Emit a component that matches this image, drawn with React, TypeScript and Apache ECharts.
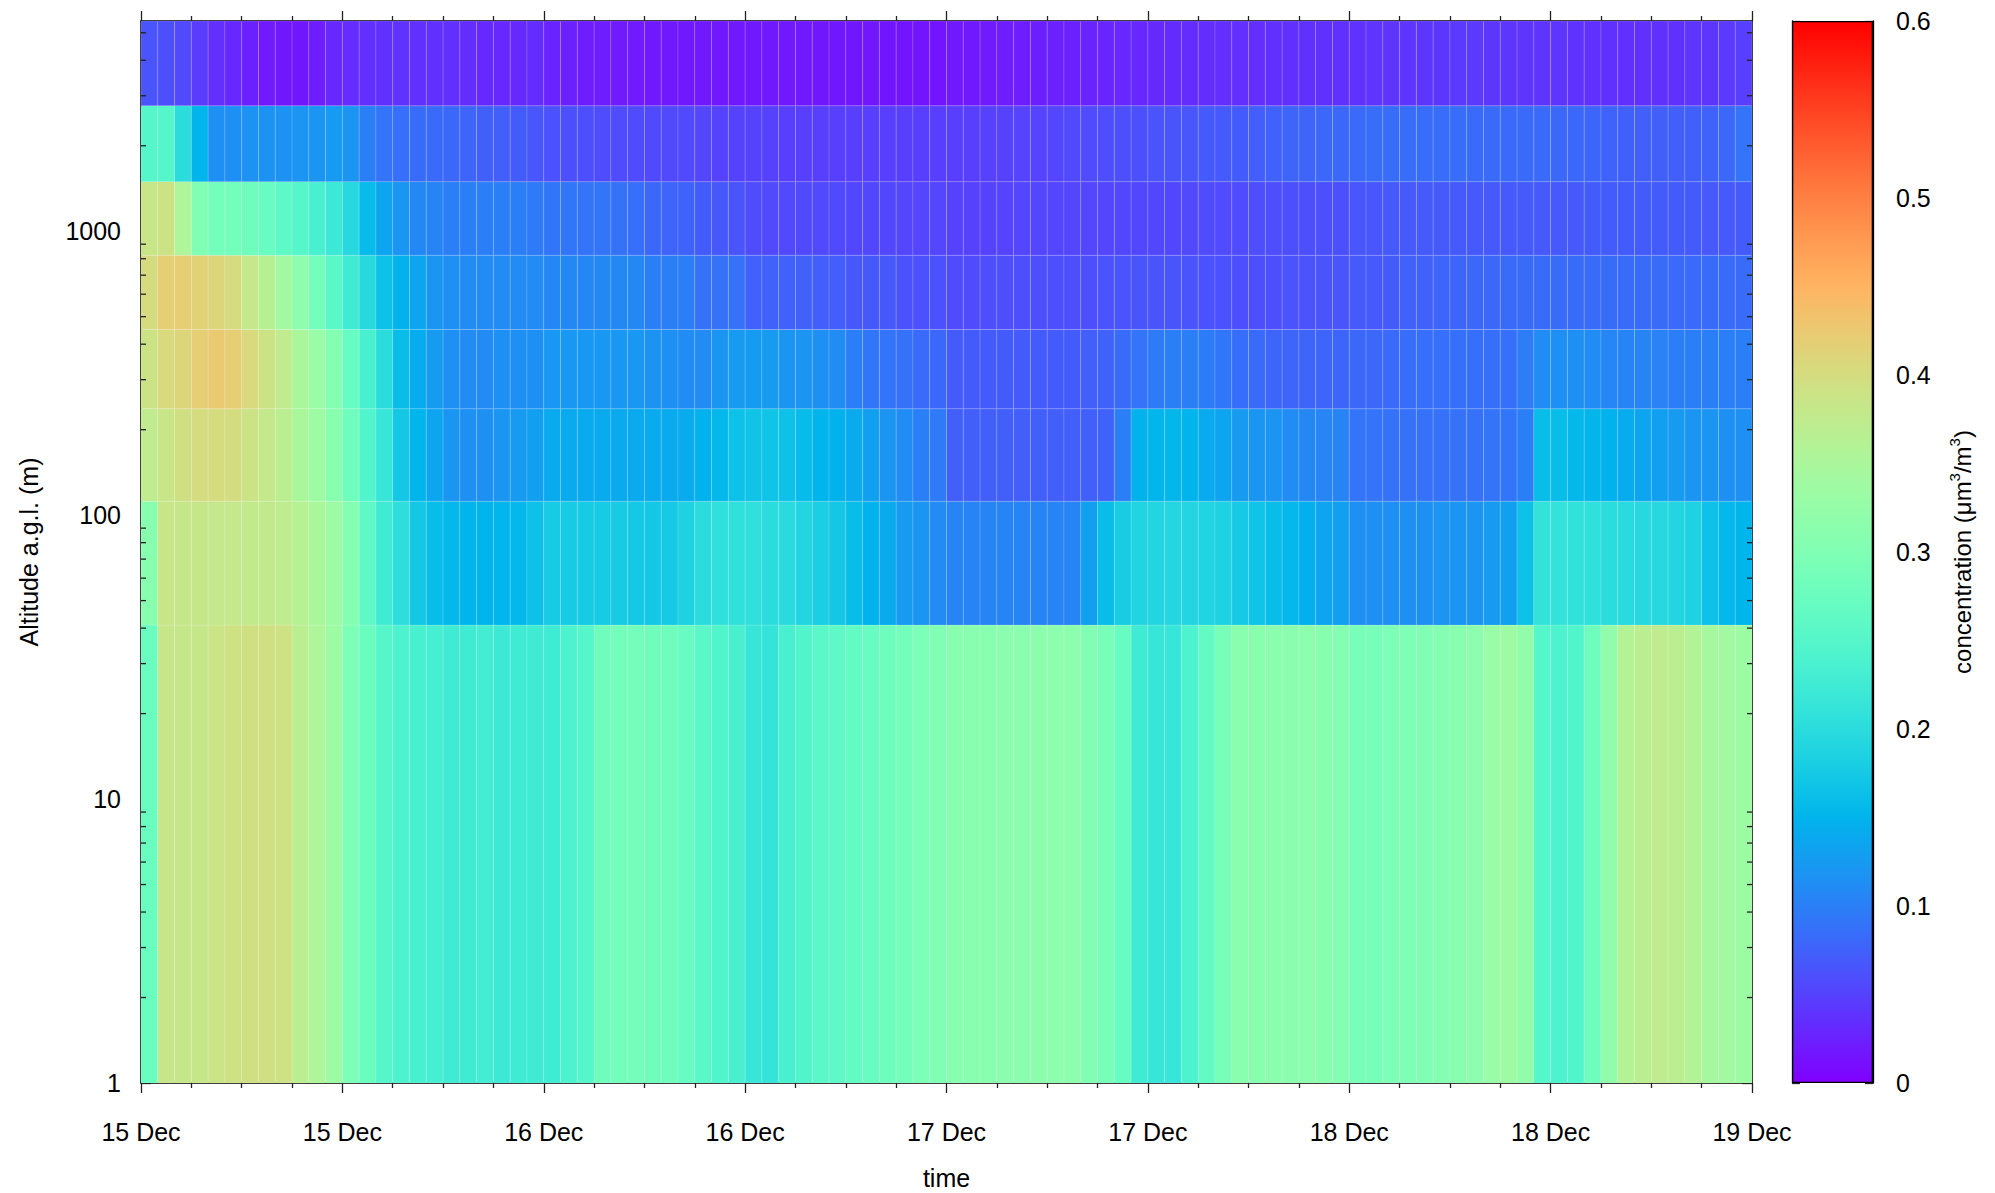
import React, { useEffect, useRef } from "react";
import * as echarts from "echarts";

// Altitude band edges (m a.g.l.)
const LEVEL_EDGES = [1, 41, 112, 237, 451, 823, 1495, 2767, 5500];

// Concentration (µm3/m3) per hourly column (hours since 15 Dec 00:00), one array per altitude band
const CONC_1_41 = [
  0.275, 0.383, 0.383, 0.383, 0.388, 0.392, 0.395, 0.395, 0.392, 0.37, 0.355, 0.335, 0.295, 0.275, 0.25, 0.24, 0.235, 0.232, 0.225, 0.225, 0.228, 0.222, 0.225, 0.225,
  0.225, 0.24, 0.25, 0.28, 0.285, 0.285, 0.282, 0.28, 0.27, 0.255, 0.245, 0.235, 0.215, 0.212, 0.235, 0.245, 0.255, 0.26, 0.265, 0.27, 0.28, 0.285, 0.295, 0.3,
  0.31, 0.31, 0.31, 0.312, 0.312, 0.313, 0.315, 0.315, 0.3, 0.29, 0.27, 0.225, 0.215, 0.215, 0.24, 0.265, 0.29, 0.31, 0.31, 0.312, 0.312, 0.315, 0.31, 0.305,
  0.29, 0.29, 0.295, 0.298, 0.3, 0.305, 0.31, 0.315, 0.33, 0.335, 0.32, 0.25, 0.24, 0.245, 0.28, 0.32, 0.36, 0.37, 0.375, 0.37, 0.36, 0.345, 0.34, 0.335,
];
const CONC_41_112 = [
  0.31, 0.385, 0.383, 0.383, 0.38, 0.38, 0.378, 0.378, 0.373, 0.363, 0.35, 0.335, 0.305, 0.26, 0.225, 0.203, 0.172, 0.16, 0.155, 0.15, 0.15, 0.152, 0.155, 0.165,
  0.176, 0.176, 0.176, 0.177, 0.176, 0.174, 0.172, 0.175, 0.185, 0.2, 0.205, 0.206, 0.205, 0.2, 0.198, 0.19, 0.18, 0.172, 0.16, 0.148, 0.14, 0.125, 0.118, 0.11,
  0.104, 0.104, 0.104, 0.104, 0.104, 0.104, 0.104, 0.104, 0.13, 0.16, 0.178, 0.188, 0.19, 0.192, 0.19, 0.188, 0.185, 0.175, 0.168, 0.16, 0.155, 0.145, 0.135, 0.13,
  0.115, 0.115, 0.115, 0.115, 0.115, 0.118, 0.12, 0.12, 0.125, 0.13, 0.165, 0.21, 0.21, 0.208, 0.205, 0.2, 0.198, 0.196, 0.195, 0.19, 0.185, 0.165, 0.155, 0.15,
];
const CONC_112_237 = [
  0.375, 0.385, 0.395, 0.4, 0.4, 0.398, 0.39, 0.38, 0.37, 0.35, 0.335, 0.31, 0.28, 0.245, 0.215, 0.172, 0.15, 0.135, 0.12, 0.115, 0.115, 0.12, 0.125, 0.13,
  0.14, 0.14, 0.14, 0.14, 0.14, 0.14, 0.14, 0.14, 0.14, 0.148, 0.155, 0.165, 0.168, 0.168, 0.165, 0.158, 0.15, 0.148, 0.14, 0.13, 0.118, 0.112, 0.1, 0.095,
  0.073, 0.073, 0.073, 0.073, 0.073, 0.073, 0.073, 0.073, 0.074, 0.076, 0.1, 0.148, 0.152, 0.153, 0.15, 0.14, 0.135, 0.125, 0.12, 0.118, 0.112, 0.108, 0.105, 0.103,
  0.09, 0.09, 0.088, 0.088, 0.088, 0.088, 0.088, 0.088, 0.09, 0.092, 0.1, 0.16, 0.16, 0.155, 0.152, 0.148, 0.142, 0.135, 0.13, 0.125, 0.12, 0.118, 0.115, 0.115,
];
const CONC_237_451 = [
  0.39, 0.405, 0.41, 0.42, 0.425, 0.42, 0.405, 0.39, 0.375, 0.35, 0.33, 0.305, 0.27, 0.235, 0.2, 0.16, 0.142, 0.125, 0.115, 0.11, 0.11, 0.115, 0.115, 0.115,
  0.122, 0.122, 0.122, 0.122, 0.122, 0.122, 0.117, 0.115, 0.112, 0.11, 0.12, 0.125, 0.126, 0.125, 0.12, 0.118, 0.115, 0.112, 0.1, 0.092, 0.09, 0.088, 0.082, 0.08,
  0.07, 0.07, 0.07, 0.07, 0.07, 0.07, 0.07, 0.07, 0.073, 0.076, 0.083, 0.09, 0.096, 0.1, 0.1, 0.097, 0.092, 0.085, 0.082, 0.078, 0.078, 0.078, 0.078, 0.078,
  0.08, 0.08, 0.082, 0.084, 0.086, 0.086, 0.086, 0.086, 0.086, 0.086, 0.098, 0.112, 0.115, 0.115, 0.112, 0.106, 0.104, 0.104, 0.102, 0.1, 0.1, 0.1, 0.1, 0.1,
];
const CONC_451_823 = [
  0.4, 0.42, 0.42, 0.415, 0.41, 0.4, 0.38, 0.365, 0.34, 0.315, 0.285, 0.255, 0.225, 0.195, 0.165, 0.148, 0.135, 0.12, 0.115, 0.11, 0.11, 0.11, 0.11, 0.11,
  0.108, 0.108, 0.108, 0.108, 0.108, 0.108, 0.1, 0.1, 0.1, 0.088, 0.088, 0.088, 0.075, 0.075, 0.075, 0.075, 0.072, 0.072, 0.067, 0.067, 0.067, 0.062, 0.062, 0.062,
  0.057, 0.057, 0.059, 0.059, 0.06, 0.06, 0.06, 0.06, 0.06, 0.063, 0.063, 0.064, 0.064, 0.064, 0.063, 0.062, 0.062, 0.06, 0.06, 0.06, 0.063, 0.063, 0.065, 0.065,
  0.068, 0.068, 0.07, 0.075, 0.075, 0.078, 0.078, 0.08, 0.08, 0.083, 0.083, 0.083, 0.083, 0.083, 0.083, 0.083, 0.083, 0.083, 0.083, 0.082, 0.082, 0.083, 0.083, 0.083,
];
const CONC_823_1495 = [
  0.385, 0.39, 0.355, 0.3, 0.285, 0.285, 0.28, 0.27, 0.26, 0.25, 0.235, 0.22, 0.195, 0.158, 0.135, 0.12, 0.108, 0.103, 0.1, 0.1, 0.1, 0.1, 0.1, 0.095,
  0.092, 0.092, 0.09, 0.09, 0.088, 0.086, 0.08, 0.078, 0.076, 0.07, 0.067, 0.064, 0.058, 0.056, 0.056, 0.055, 0.055, 0.055, 0.054, 0.054, 0.054, 0.053, 0.053, 0.053,
  0.05, 0.049, 0.05, 0.051, 0.053, 0.053, 0.053, 0.053, 0.053, 0.053, 0.054, 0.054, 0.054, 0.054, 0.055, 0.057, 0.057, 0.057, 0.059, 0.059, 0.06, 0.06, 0.061, 0.061,
  0.066, 0.066, 0.068, 0.068, 0.068, 0.068, 0.068, 0.068, 0.068, 0.068, 0.068, 0.068, 0.068, 0.068, 0.07, 0.07, 0.07, 0.07, 0.07, 0.07, 0.07, 0.068, 0.068, 0.07,
];
const CONC_1495_2767 = [
  0.25, 0.25, 0.2, 0.15, 0.115, 0.115, 0.117, 0.117, 0.117, 0.118, 0.12, 0.124, 0.12, 0.1, 0.09, 0.086, 0.083, 0.082, 0.08, 0.078, 0.074, 0.073, 0.07, 0.066,
  0.062, 0.061, 0.06, 0.058, 0.057, 0.057, 0.056, 0.056, 0.055, 0.053, 0.05, 0.05, 0.05, 0.049, 0.048, 0.048, 0.048, 0.048, 0.047, 0.047, 0.047, 0.047, 0.047, 0.048,
  0.047, 0.047, 0.049, 0.049, 0.051, 0.051, 0.053, 0.055, 0.057, 0.059, 0.06, 0.061, 0.063, 0.064, 0.066, 0.068, 0.068, 0.07, 0.072, 0.075, 0.077, 0.077, 0.08, 0.08,
  0.082, 0.084, 0.084, 0.084, 0.084, 0.084, 0.084, 0.082, 0.082, 0.082, 0.082, 0.082, 0.08, 0.08, 0.078, 0.076, 0.074, 0.073, 0.073, 0.073, 0.074, 0.076, 0.08, 0.09,
];
const CONC_2767_5500 = [
  0.065, 0.06, 0.055, 0.045, 0.035, 0.03, 0.024, 0.02, 0.017, 0.017, 0.022, 0.03, 0.033, 0.036, 0.037, 0.038, 0.036, 0.036, 0.036, 0.034, 0.031, 0.03, 0.031, 0.033,
  0.026, 0.024, 0.022, 0.022, 0.02, 0.02, 0.019, 0.019, 0.018, 0.018, 0.018, 0.018, 0.018, 0.018, 0.018, 0.018, 0.017, 0.017, 0.017, 0.017, 0.016, 0.016, 0.016, 0.016,
  0.018, 0.019, 0.02, 0.022, 0.022, 0.023, 0.024, 0.025, 0.026, 0.028, 0.03, 0.03, 0.031, 0.032, 0.033, 0.034, 0.035, 0.035, 0.035, 0.036, 0.036, 0.037, 0.037, 0.037,
  0.038, 0.039, 0.04, 0.04, 0.041, 0.041, 0.043, 0.043, 0.041, 0.041, 0.04, 0.04, 0.04, 0.038, 0.037, 0.037, 0.036, 0.036, 0.037, 0.037, 0.04, 0.041, 0.043, 0.048,
];
const BAND_ROWS = [CONC_1_41, CONC_41_112, CONC_112_237, CONC_237_451, CONC_451_823, CONC_823_1495, CONC_1495_2767, CONC_2767_5500];

const X_TICK_LABELS = ["15 Dec", "15 Dec", "16 Dec", "16 Dec", "17 Dec", "17 Dec", "18 Dec", "18 Dec", "19 Dec"];
const Y_MINOR_TICKS = [2, 3, 4, 5, 6, 7, 8, 9, 20, 30, 40, 50, 60, 70, 80, 90, 200, 300, 400, 500, 600, 700, 800, 900, 2000, 3000, 4000, 5000];
const CBAR_MIN = 0;
const CBAR_MAX = 0.6;

// matplotlib-like "rainbow" colour map stops
const RAINBOW = [
  "#8000ff", "#6628fe", "#4d4ffc", "#3374f8", "#1a96f2", "#00b4ec", "#1acee3", "#33e3da", "#4df3ce", "#66fcc2",
  "#80ffb4", "#99fca6", "#b3f396", "#cce385", "#e6ce74", "#ffb462", "#ff964f", "#ff743c", "#ff4f28", "#ff2814", "#ff0000",
];

const FONT = "Liberation Sans, Arial, Helvetica, sans-serif";

export default function App() {
  const ref = useRef<HTMLDivElement>(null);
  useEffect(() => {
    if (!ref.current) return;
    const chart = echarts.init(ref.current, null, { renderer: "svg" });

    const cells: number[][] = [];
    BAND_ROWS.forEach((row, r) => {
      row.forEach((v, c) => {
        cells.push([c, c + 1, LEVEL_EDGES[r], LEVEL_EDGES[r + 1], v]);
      });
    });
    const nCols = BAND_ROWS[0].length;
    const minorData = Y_MINOR_TICKS.map((v) => [0, v]);

    const axisLine = { show: true, onZero: false, lineStyle: { color: "#000", width: 1.5 } };
    const tickStyle = { color: "#222", width: 1.3 };
    const labelStyle = { color: "#000", fontFamily: FONT, fontSize: 25 };

    const option: any = {
      animation: false,
      backgroundColor: "#fff",
      textStyle: { fontFamily: FONT },
      grid: [
        { left: 141, top: 21, right: 243, bottom: 110, containLabel: false, outerBoundsMode: "none" },
        { left: 1792, top: 21, width: 81, bottom: 110, containLabel: false, outerBoundsMode: "none" },
      ],
      visualMap: {
        type: "continuous",
        show: false,
        min: CBAR_MIN,
        max: CBAR_MAX,
        dimension: 4,
        seriesIndex: 0,
        inRange: { color: RAINBOW },
      },
      xAxis: [
        {
          gridIndex: 0,
          type: "value",
          min: 0,
          max: nCols,
          interval: 12,
          position: "bottom",
          axisLine,
          axisTick: { show: true, length: 10, lineStyle: tickStyle },
          minorTick: { show: true, splitNumber: 4, length: 5, lineStyle: tickStyle },
          splitLine: { show: false },
          axisLabel: {
            ...labelStyle,
            margin: 36,
            formatter: (v: number) => X_TICK_LABELS[Math.round(v / 12)] ?? "",
          },
          name: "time",
          nameLocation: "middle",
          nameGap: 82,
          nameTextStyle: { ...labelStyle },
        },
        {
          gridIndex: 0,
          type: "value",
          min: 0,
          max: nCols,
          interval: 12,
          position: "top",
          axisLine,
          axisTick: { show: true, length: 10, lineStyle: tickStyle },
          minorTick: { show: true, splitNumber: 4, length: 5, lineStyle: tickStyle },
          splitLine: { show: false },
          axisLabel: { show: false },
        },
        {
          gridIndex: 1,
          type: "category",
          data: ["c"],
          show: false,
        },
      ],
      yAxis: [
        {
          gridIndex: 0,
          type: "log",
          logBase: 10,
          min: LEVEL_EDGES[0],
          max: LEVEL_EDGES[LEVEL_EDGES.length - 1],
          position: "left",
          axisLine,
          axisTick: { show: true, inside: true, length: 10, lineStyle: tickStyle },
          splitLine: { show: false },
          axisLabel: {
            ...labelStyle,
            margin: 20,
            showMaxLabel: false,
            formatter: (v: number) => String(Math.round(v)),
          },
          name: "Altitude a.g.l. (m)",
          nameLocation: "middle",
          nameRotate: 90,
          nameGap: 100,
          nameTextStyle: { ...labelStyle },
        },
        {
          gridIndex: 0,
          type: "log",
          logBase: 10,
          min: LEVEL_EDGES[0],
          max: LEVEL_EDGES[LEVEL_EDGES.length - 1],
          position: "right",
          axisLine,
          axisTick: { show: true, inside: true, length: 10, lineStyle: tickStyle },
          splitLine: { show: false },
          axisLabel: { show: false },
        },
        {
          gridIndex: 1,
          type: "value",
          min: CBAR_MIN,
          max: CBAR_MAX,
          interval: 0.1,
          position: "left",
          axisLine: { show: true, onZero: false, lineStyle: { color: "#000", width: 1.3 } },
          axisTick: { show: true, inside: true, length: 8, lineStyle: tickStyle },
          splitLine: { show: false },
          axisLabel: { show: false },
        },
        {
          gridIndex: 1,
          type: "value",
          min: CBAR_MIN,
          max: CBAR_MAX,
          interval: 0.1,
          position: "right",
          axisLine: { show: true, onZero: false, lineStyle: { color: "#000", width: 1.3 } },
          axisTick: { show: true, inside: true, length: 8, lineStyle: tickStyle },
          splitLine: { show: false },
          axisLabel: {
            ...labelStyle,
            margin: 23,
            formatter: (v: number) => String(parseFloat(v.toFixed(1))),
          },
          name: "concentration (μm{sup|3}/m{sup|3})",
          nameLocation: "middle",
          nameRotate: 90,
          nameGap: 74,
          nameTextStyle: {
            ...labelStyle,
            fontSize: 24,
            lineHeight: 30,
            rich: {
              sup: { fontFamily: FONT, fontSize: 15, color: "#000", verticalAlign: "top", lineHeight: 30 },
            },
          },
        },
      ],
      series: [
        {
          type: "custom",
          name: "concentration",
          xAxisIndex: 0,
          yAxisIndex: 0,
          data: cells,
          encode: { x: [0, 1], y: [2, 3] },
          clip: true,
          renderItem: (params: any, api: any) => {
            const p0 = api.coord([api.value(0), api.value(2)]);
            const p1 = api.coord([api.value(1), api.value(3)]);
            return {
              type: "rect",
              shape: { x: p0[0], y: p1[1], width: p1[0] - p0[0], height: p0[1] - p1[1] },
              style: { fill: api.visual("color"), stroke: "rgba(255,255,255,0.14)", lineWidth: 1 },
            };
          },
        },
        {
          type: "custom",
          name: "minorTicks",
          xAxisIndex: 0,
          yAxisIndex: 0,
          data: minorData,
          silent: true,
          clip: false,
          renderItem: (params: any, api: any) => {
            const cs = params.coordSys;
            const y = api.coord([0, api.value(1)])[1];
            const st = { stroke: "#222", lineWidth: 1.3 };
            return {
              type: "group",
              children: [
                { type: "line", shape: { x1: cs.x, y1: y, x2: cs.x + 5, y2: y }, style: st },
                { type: "line", shape: { x1: cs.x + cs.width - 5, y1: y, x2: cs.x + cs.width, y2: y }, style: st },
              ],
            };
          },
        },
        {
          type: "bar",
          name: "colorbar",
          xAxisIndex: 2,
          yAxisIndex: 2,
          data: [CBAR_MAX],
          barWidth: "100%",
          silent: true,
          itemStyle: {
            color: new echarts.graphic.LinearGradient(
              0,
              1,
              0,
              0,
              RAINBOW.map((c, i) => ({ offset: i / (RAINBOW.length - 1), color: c }))
            ),
            borderColor: "#000",
            borderWidth: 1.3,
          },
        },
      ],
    };
    chart.setOption(option);
    return () => chart.dispose();
  }, []);
  return (
    <div
      ref={ref}
      style={{ position: "absolute", left: 0, top: 0, width: 1995, height: 1193, background: "#fff" }}
    />
  );
}
